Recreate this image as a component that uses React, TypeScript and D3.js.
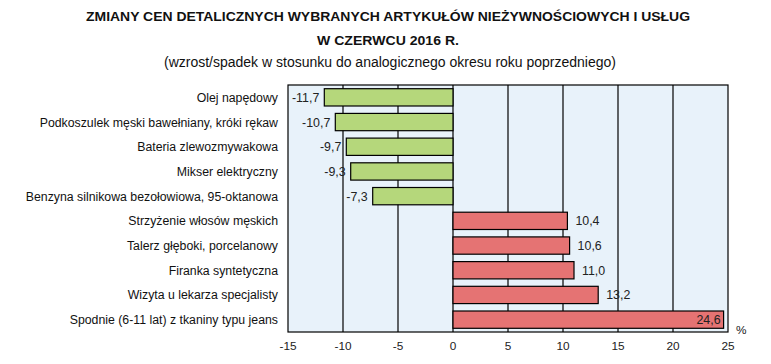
import React from 'react';
import * as d3 from 'd3';

const categories = [
  'Olej napędowy',
  'Podkoszulek męski bawełniany, króki rękaw',
  'Bateria zlewozmywakowa',
  'Mikser elektryczny',
  'Benzyna silnikowa bezołowiowa, 95-oktanowa',
  'Strzyżenie włosów męskich',
  'Talerz głęboki, porcelanowy',
  'Firanka syntetyczna',
  'Wizyta u lekarza specjalisty',
  'Spodnie (6-11 lat) z tkaniny typu jeans',
];
const values = [-11.7, -10.7, -9.7, -9.3, -7.3, 10.4, 10.6, 11.0, 13.2, 24.6];
const xTicks = [-15, -10, -5, 0, 5, 10, 15, 20, 25];

const W = 771;
const H = 364;
const margin = { top: 85, right: 43, bottom: 32, left: 288 };
const font = 'Arial, "Liberation Sans", sans-serif';
const narrow = '"Liberation Sans Narrow", "Arial Narrow", Arial, sans-serif';

const fmt = (v: number) => v.toFixed(1).replace('.', ',');

export default function App() {
  const x = d3.scaleLinear().domain([-15, 25]).range([margin.left, W - margin.right]);
  const y = d3
    .scaleBand<string>()
    .domain(categories)
    .range([margin.top, H - margin.bottom])
    .paddingInner(0.3)
    .paddingOuter(0.15);

  const left = x(-15);
  const right = x(25);
  const top = margin.top;
  const bottom = H - margin.bottom;

  return (
    <svg width={W} height={H} style={{ display: 'block', position: 'absolute', left: 0, top: 0, background: '#fff' }}>
      <text x={388} y={21} textAnchor="middle" fontFamily={narrow} fontWeight="bold" fontSize={13.5}
        textLength={604} lengthAdjust="spacingAndGlyphs" fill="#111">
        ZMIANY CEN DETALICZNYCH WYBRANYCH ARTYKUŁÓW NIEŻYWNOŚCIOWYCH I USŁUG
      </text>
      <text x={388} y={45} textAnchor="middle" fontFamily={narrow} fontWeight="bold" fontSize={13.5}
        textLength={142} lengthAdjust="spacingAndGlyphs" fill="#111">
        W CZERWCU 2016 R.
      </text>
      <text x={390} y={67} textAnchor="middle" fontFamily={narrow} fontSize={14}
        textLength={452} lengthAdjust="spacingAndGlyphs" fill="#111">
        (wzrost/spadek w stosunku do analogicznego okresu roku poprzedniego)
      </text>

      <rect x={left} y={top} width={right - left} height={bottom - top} fill="#e8f2fa" />
      {xTicks.filter(t => t > -15 && t < 25).map(t => (
        <line key={t} x1={x(t)} x2={x(t)} y1={top} y2={bottom} stroke="#000" strokeWidth={1.2} />
      ))}

      {categories.map((c, i) => {
        const v = values[i];
        const x0 = x(Math.min(0, v));
        const x1 = x(Math.max(0, v));
        const yy = y(c)!;
        const cy = yy + y.bandwidth() / 2;
        const inside = v > 20;
        return (
          <g key={c}>
            <rect x={x0} y={yy} width={x1 - x0} height={y.bandwidth()}
              fill={v < 0 ? '#b5d77b' : '#e57373'} stroke="#000" strokeWidth={1.2} />
            <text
              x={inside ? x1 - 3 : v < 0 ? x0 - 5 : x1 + 8}
              y={cy + 4.5}
              textAnchor={inside || v < 0 ? 'end' : 'start'}
              fontFamily={font}
              fontSize={12.4}
              fill="#222"
            >
              {fmt(v)}
            </text>
            <text x={278} y={cy + 4.5} textAnchor="end" fontFamily={font} fontSize={12.3} fill="#111">
              {c}
            </text>
          </g>
        );
      })}

      <rect x={left} y={top} width={right - left} height={bottom - top} fill="none" stroke="#000" strokeWidth={1.2} />

      {xTicks.map(t => (
        <text key={t} x={x(t)} y={350} textAnchor="middle" fontFamily={font} fontSize={11.8} fill="#222">
          {t}
        </text>
      ))}
      <text x={736} y={334} fontFamily={font} fontSize={11.8} fill="#222">%</text>
    </svg>
  );
}
